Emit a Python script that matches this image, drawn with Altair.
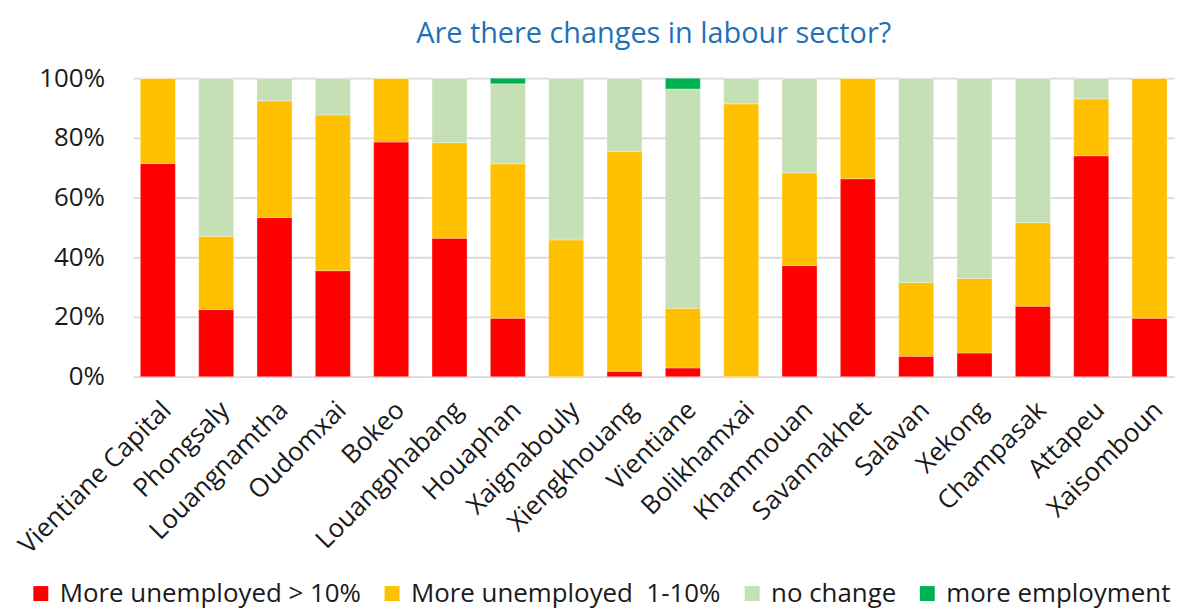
import altair as alt
import pandas as pd

provinces = ["Vientiane Capital", "Phongsaly", "Louangnamtha", "Oudomxai", "Bokeo",
             "Louangphabang", "Houaphan", "Xaignabouly", "Xiengkhouang", "Vientiane",
             "Bolikhamxai", "Khammouan", "Savannakhet", "Salavan", "Xekong",
             "Champasak", "Attapeu", "Xaisomboun"]
series = ["More unemployed > 10%", "More unemployed \u00a01-10%", "no change", "more employment"]
colors = ["#FF0000", "#FFC000", "#C5E0B4", "#00B050"]

more_unemp_10 = [71.4, 22.5, 53.3, 35.5, 78.6, 46.4, 19.6, 0.0, 1.8, 2.9, 0.0, 37.2, 66.3, 6.8, 7.9, 23.6, 74.0, 19.6]
more_unemp_1_10 = [28.6, 24.5, 39.1, 52.2, 21.4, 32.0, 51.7, 45.8, 73.6, 20.0, 91.4, 31.1, 33.7, 24.7, 25.0, 28.0, 19.1, 80.4]
no_change = [0.0, 53.0, 7.6, 12.3, 0.0, 21.6, 26.8, 54.2, 24.6, 73.5, 8.6, 31.7, 0.0, 68.5, 67.1, 48.4, 6.9, 0.0]
more_employment = [0.0, 0.0, 0.0, 0.0, 0.0, 0.0, 1.9, 0.0, 0.0, 3.6, 0.0, 0.0, 0.0, 0.0, 0.0, 0.0, 0.0, 0.0]

rows = []
for i, p in enumerate(provinces):
    for j, vals in enumerate([more_unemp_10, more_unemp_1_10, no_change, more_employment]):
        rows.append({"province": p, "series": series[j], "order": j, "value": vals[i] / 100.0})
df = pd.DataFrame(rows)

FONT = "Open Sans"
TXT = "#1a1a1a"

chart = alt.Chart(df).mark_bar(stroke="white", strokeWidth=0.5, strokeOpacity=0.6).encode(
    x=alt.X("province:N", sort=provinces,
            scale=alt.Scale(paddingInner=0.4, paddingOuter=0.12),
            axis=alt.Axis(title=None, labelAngle=-45, labelAlign="right", labelBaseline="top",
                          labelFontSize=26, labelColor=TXT, labelFont=FONT,
                          ticks=False, domain=False, labelPadding=20,
                          labelOverlap=False, labelLimit=400)),
    y=alt.Y("value:Q", stack="zero",
            scale=alt.Scale(domain=[0, 1], nice=False),
            axis=alt.Axis(title=None, format="%", values=[0, 0.2, 0.4, 0.6, 0.8, 1.0],
                          labelFontSize=26, labelColor=TXT, labelFont=FONT,
                          ticks=False, domain=False, labelPadding=29,
                          grid=True, gridColor="#D9D9D9", gridWidth=1.8)),
    color=alt.Color("series:N", sort=series,
                    scale=alt.Scale(domain=series, range=colors),
                    legend=alt.Legend(title=None, orient="none", direction="horizontal",
                                      legendX=-106, legendY=505,
                                      symbolType="square", symbolSize=225, symbolStrokeWidth=0,
                                      labelFontSize=26, labelColor=TXT, labelFont=FONT,
                                      labelOffset=6, columnPadding=18, labelLimit=500)),
    order=alt.Order("order:Q", sort="ascending"),
).properties(
    width=1046, height=300,
    autosize=alt.AutoSizeParams(type="none"),
    padding={"left": 126, "top": 69, "right": 6, "bottom": 232},
    title=alt.TitleParams("Are there changes in labour sector?", fontSize=29, font=FONT,
                          fontWeight="normal", color="#1F70B8", anchor="middle", offset=16),
).configure_view(stroke=None)

chart.save("out.html", embed_options={"renderer": "svg", "actions": False})
